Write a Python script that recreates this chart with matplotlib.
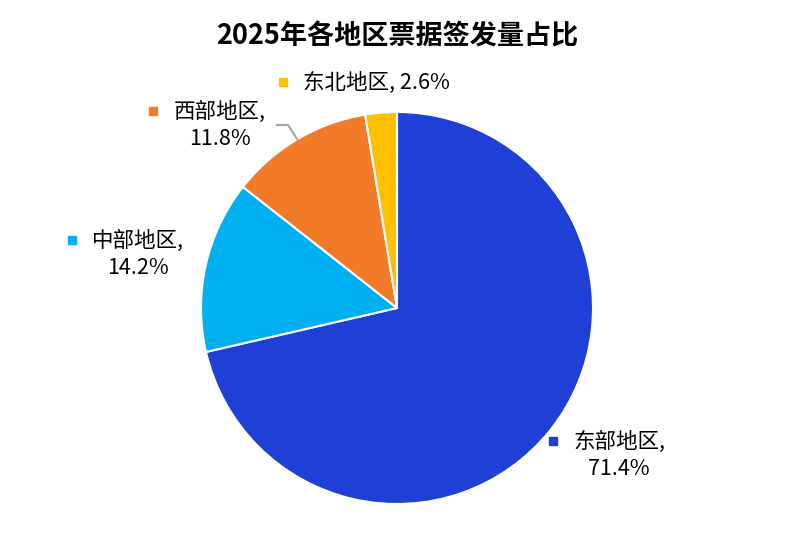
import matplotlib.pyplot as plt
import numpy as np

plt.rcParams['font.family'] = ['Noto Sans CJK SC', 'DejaVu Sans']

regions = ["东部地区", "中部地区", "西部地区", "东北地区"]
shares = [71.4, 14.2, 11.8, 2.6]
colors = ["#1E40D6", "#00B0F0", "#F27B2A", "#FFC000"]
title = "2025年各地区票据签发量占比"

W, H = 794, 556
cx, cy, r = 397, H - 308, 196

fig = plt.figure(figsize=(W / 100, H / 100), dpi=100)
ax = fig.add_axes([0, 0, 1, 1])

wedges, _ = ax.pie(shares, colors=colors, startangle=90, counterclock=False,
                   center=(cx, cy), radius=r, frame=True,
                   wedgeprops=dict(edgecolor="white", linewidth=1.5))
ax.set_xlim(0, W)
ax.set_ylim(0, H)
ax.set_aspect("equal")
ax.axis("off")

fig.text(0.5, 1 - 36 / H, title, ha="center", va="center",
         fontsize=19.5, fontweight="bold")

# label layout in pixel coords: (text center x, first-line y, marker x)
label_pos = {
    "东部地区": (619, 442, 553),
    "中部地区": (138, 241, 72),
    "西部地区": (220, 112, 153),
}
fs = 15.5
for name, val, col in zip(regions, shares, colors):
    if name == "东北地区":
        ax.text(303, H - 83, f"{name}, {val}%", ha="left", va="center", fontsize=fs)
        ax.plot(283, H - 82, marker="s", ms=6, color=col, clip_on=False)
        continue
    tx, ty, mx = label_pos[name]
    ax.text(tx, H - ty, f"{name},", ha="center", va="center", fontsize=fs)
    ax.text(tx, H - ty - 27, f"{val}%", ha="center", va="center", fontsize=fs)
    ax.plot(mx, H - ty + 1, marker="s", ms=6, color=col, clip_on=False)

# leader line for the western region, ending at the wedge's mid-angle
w = wedges[2]
mid = np.deg2rad((w.theta1 + w.theta2) / 2)
ex, ey = cx + r * np.cos(mid), cy + r * np.sin(mid)
ax.plot([277, 288, ex], [H - 125, H - 125, ey], color="#A6A6A6", lw=1.5)

fig.savefig("out.png", dpi=100)
